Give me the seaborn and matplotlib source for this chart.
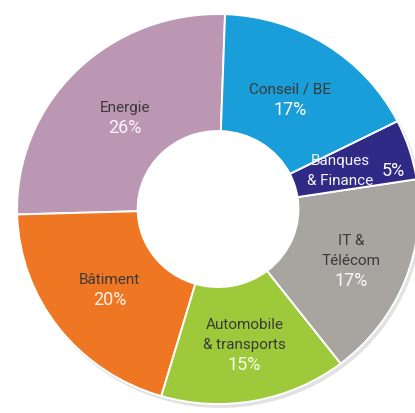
import numpy as np
import matplotlib.pyplot as plt
import seaborn as sns
from matplotlib.patches import Circle

# Répartition par secteur (%)
secteurs = ['Energie', 'Bâtiment', 'Automobile\n& transports', 'IT &\nTélécom', 'Banques\n& Finance', 'Conseil / BE']
parts = [26, 20, 15, 17, 5, 17]
etiquettes_pct = ['26%', '20%', '15%', '17%', '5%', '17%']
couleurs = ['#bc97b3', '#ef7622', '#9dc93a', '#a8a5a1', '#2e2a86', '#1a9ed9']
couleurs_pct = ['#fbf5f9', '#fff3ea', '#f8fcee', '#f8f8f6', '#ffffff', '#ffffff']
rayons_etiquettes = [0.655, 0.68, 0.71, 0.715, 0.64, 0.665]

sns.set_theme(style='white')
plt.rcParams['font.family'] = ['Roboto', 'DejaVu Sans']

fig = plt.figure(figsize=(4.15, 4.13), dpi=100)
ax = fig.add_axes([0, 0, 1, 1])

wedges, _ = ax.pie(parts, colors=sns.color_palette(couleurs), startangle=88,
                   counterclock=True, radius=1,
                   wedgeprops=dict(width=0.6, edgecolor='white', linewidth=1.4))

# ombre légère sous l'anneau
ax.add_patch(Circle((0.012, -0.016), 1.004, facecolor='#e2e2e2', edgecolor='none', zorder=0))
ax.add_patch(Circle((0, 0), 0.40, facecolor='white', edgecolor='none', zorder=0.5))

# léger aplatissement vertical comme sur l'original
ax.set_aspect('auto')
ax.set_xlim(-1.085, 0.980)
ax.set_ylim(-1.046, 1.072)
ax.axis('off')

ligne = 0.103  # interligne en unités de données

for i, w in enumerate(wedges):
    mid = np.deg2rad((w.theta1 + w.theta2) / 2)
    r = rayons_etiquettes[i]
    x, y = r * np.cos(mid), r * np.sin(mid)
    lignes = secteurs[i].split('\n')
    if lignes[0] == 'Banques':
        ax.text(x, y + ligne / 2, lignes[0], ha='center', va='center', fontsize=11, color='#f4f4fa')
        ax.text(x, y - ligne / 2, lignes[1], ha='center', va='center', fontsize=11, color='#f4f4fa')
        ax.text(x + 0.265, y, etiquettes_pct[i], ha='center', va='center',
                fontsize=13, color=couleurs_pct[i])
        continue
    n = len(lignes)
    # bloc centré sur (x, y) : lignes du nom puis pourcentage
    haut = y + ligne * (n + 1) / 2
    for k, txt in enumerate(lignes):
        ax.text(x, haut - ligne * (k + 0.5), txt, ha='center', va='center',
                fontsize=11, color='#3a3a3a')
    ax.text(x, haut - ligne * (n + 0.5), etiquettes_pct[i], ha='center', va='center',
            fontsize=13, color=couleurs_pct[i])

fig.savefig('out.png', dpi=100)
